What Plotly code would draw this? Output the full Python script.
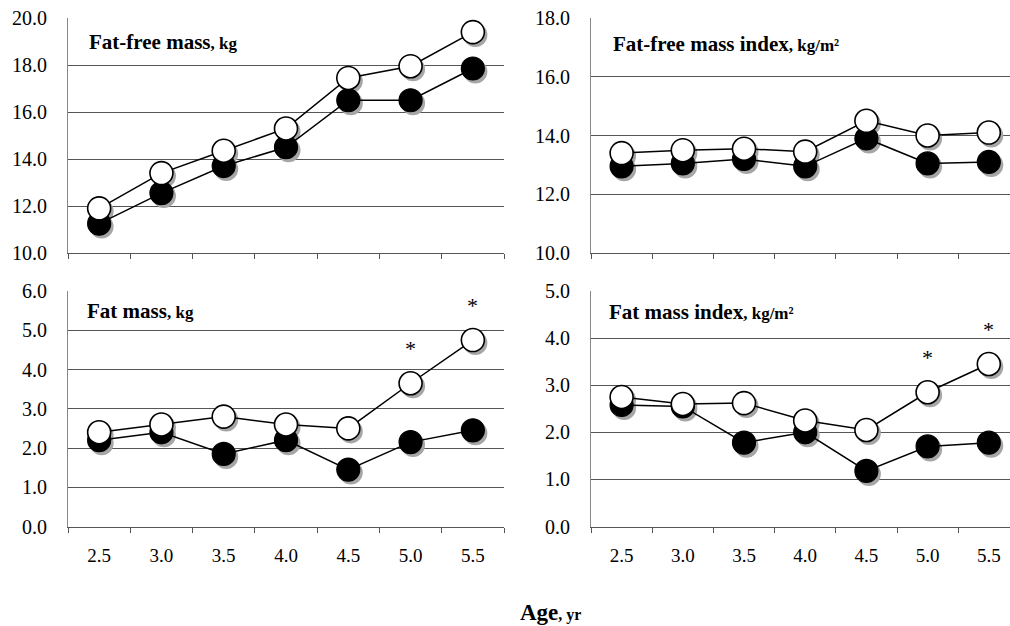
import plotly.graph_objects as go

# ---------------- data ----------------
ages = ["2.5", "3.0", "3.5", "4.0", "4.5", "5.0", "5.5"]

ffm_open = [11.9, 13.4, 14.35, 15.3, 17.45, 17.95, 19.4]
ffm_filled = [11.25, 12.55, 13.7, 14.5, 16.5, 16.5, 17.85]

ffmi_open = [13.4, 13.5, 13.55, 13.45, 14.5, 14.0, 14.1]
ffmi_filled = [12.95, 13.05, 13.2, 12.95, 13.9, 13.05, 13.1]

fm_open = [2.4, 2.6, 2.8, 2.6, 2.5, 3.65, 4.75]
fm_filled = [2.2, 2.4, 1.85, 2.2, 1.45, 2.15, 2.45]

fmi_open = [2.75, 2.6, 2.62, 2.25, 2.05, 2.85, 3.45]
fmi_filled = [2.58, 2.55, 1.78, 2.0, 1.18, 1.7, 1.78]

fm_sig = ["", "", "", "", "", "*", "*"]
fmi_sig = ["", "", "", "", "", "*", "*"]

titles = ["Fat-free mass", "Fat-free mass index", "Fat mass", "Fat mass index"]
units = ["kg", "kg/m²", "kg", "kg/m²"]
x_title = "Age"
x_unit = "yr"

# ---------------- layout helpers ----------------
W, H = 1010, 626
FONT = "Liberation Serif"


def fx(p):
    return p / W


def fy(p):
    return 1 - p / H


panels = [
    dict(x0=68, x1=504, y0=18, y1=253, yr=[10, 20], dt=2, ncat=7.0,
         filled=ffm_filled, opened=ffm_open, sig=None, labels=False,
         tx=87, ty=42),
    dict(x0=591, x1=1010, y0=18, y1=253, yr=[10, 18], dt=2, ncat=419 / 61.2,
         filled=ffmi_filled, opened=ffmi_open, sig=None, labels=False,
         tx=611, ty=44),
    dict(x0=68, x1=504, y0=291, y1=526.5, yr=[0, 6], dt=1, ncat=7.0,
         filled=fm_filled, opened=fm_open, sig=fm_sig, labels=True,
         tx=85, ty=311),
    dict(x0=591, x1=1010, y0=291, y1=526.5, yr=[0, 5], dt=1, ncat=419 / 61.2,
         filled=fmi_filled, opened=fmi_open, sig=fmi_sig, labels=True,
         tx=607, ty=312),
]

fig = go.Figure()
layout = {}
SDX, SDY = 2.5, 3.0  # shadow offset in pixels
MS = 23              # marker size


def key(ax, n):
    return ax + ("axis" if n == 1 else "axis%d" % n)


def ref(ax, n):
    return ax if n == 1 else "%s%d" % (ax, n)


annotations = []

for i, p in enumerate(panels):
    base = i + 1
    shad = i + 5
    main = i + 9
    xd = [fx(p["x0"]), fx(p["x1"])]
    yd = [fy(p["y1"]), fy(p["y0"])]
    xr = [-0.5, -0.5 + p["ncat"]]
    yr = p["yr"]
    pxu_x = (p["x1"] - p["x0"]) / (xr[1] - xr[0])
    pxu_y = (p["y1"] - p["y0"]) / (yr[1] - yr[0])

    # base axes: grid, ticks, labels
    layout[key("x", base)] = dict(
        domain=xd, range=xr, anchor=ref("y", base), automargin=False,
        type="category", categoryorder="array", categoryarray=ages,
        showgrid=False, showline=True, linecolor="#555", linewidth=1,
        ticks="outside", tickson="boundaries", ticklen=5, tickcolor="#555",
        showticklabels=p["labels"], ticklabelstandoff=12,
        tickfont=dict(family=FONT, size=19, color="black"),
        zeroline=False, fixedrange=True,
    )
    layout[key("y", base)] = dict(
        domain=yd, range=yr, anchor=ref("x", base), automargin=False,
        tickmode="linear", tick0=yr[0], dtick=p["dt"], tickformat=".1f",
        showgrid=True, gridcolor="#555", gridwidth=1,
        showline=True, linecolor="#888", linewidth=1,
        ticks="", ticklabelstandoff=16,
        tickfont=dict(family=FONT, size=20, color="black"),
        zeroline=False, fixedrange=True,
    )
    # shadow axes (shifted ranges -> offset shadow)
    layout[key("x", shad)] = dict(
        domain=xd, overlaying=ref("x", base), automargin=False,
        range=[xr[0] - SDX / pxu_x, xr[1] - SDX / pxu_x],
        type="category", categoryorder="array", categoryarray=ages,
        visible=False, anchor=ref("y", shad), fixedrange=True,
    )
    layout[key("y", shad)] = dict(
        domain=yd, overlaying=ref("y", base), automargin=False,
        range=[yr[0] + SDY / pxu_y, yr[1] + SDY / pxu_y],
        visible=False, anchor=ref("x", shad), fixedrange=True,
    )
    # main data axes
    layout[key("x", main)] = dict(
        domain=xd, overlaying=ref("x", base), automargin=False,
        range=xr, type="category", categoryorder="array", categoryarray=ages,
        visible=False, anchor=ref("y", main), fixedrange=True,
    )
    layout[key("y", main)] = dict(
        domain=yd, overlaying=ref("y", base), automargin=False,
        range=yr, visible=False, anchor=ref("x", main), fixedrange=True,
    )

    # invisible anchor trace on base axes so the subplot is drawn
    fig.add_trace(go.Scatter(
        x=ages, y=p["filled"], mode="markers",
        marker=dict(size=1, opacity=0),
        xaxis=ref("x", base), yaxis=ref("y", base),
        showlegend=False, hoverinfo="skip",
    ))
    # shadows
    for series in (p["filled"], p["opened"]):
        fig.add_trace(go.Scatter(
            x=ages, y=series, mode="markers",
            marker=dict(size=MS + 1, color="#a6a6a6", line=dict(width=0)),
            xaxis=ref("x", shad), yaxis=ref("y", shad),
            showlegend=False, hoverinfo="skip", cliponaxis=False,
        ))
    # filled series
    fig.add_trace(go.Scatter(
        x=ages, y=p["filled"], mode="lines+markers",
        line=dict(color="black", width=1.5),
        marker=dict(size=MS, color="black", line=dict(color="black", width=1.2)),
        xaxis=ref("x", main), yaxis=ref("y", main), showlegend=False,
        cliponaxis=False,
    ))
    # open series
    fig.add_trace(go.Scatter(
        x=ages, y=p["opened"], mode="lines+markers",
        line=dict(color="black", width=1.5),
        marker=dict(size=MS, color="white", line=dict(color="black", width=1.6)),
        xaxis=ref("x", main), yaxis=ref("y", main), showlegend=False,
        cliponaxis=False,
    ))
    # significance asterisks above the open circles (x given as category index)
    if p["sig"] is not None:
        for k, (v, s) in enumerate(zip(p["opened"], p["sig"])):
            if s:
                annotations.append(dict(
                    x=k, y=v, xref=ref("x", main), yref=ref("y", main),
                    text=s, showarrow=False, yshift=35,
                    xanchor="center", yanchor="middle",
                    font=dict(family=FONT, size=22, color="black"),
                ))

for p, t, u in zip(panels, titles, units):
    annotations.append(dict(
        x=fx(p["tx"]), y=fy(p["ty"]), xref="paper", yref="paper",
        xanchor="left", yanchor="middle", showarrow=False,
        text="<b>%s</b><b><span style='font-size:17px'>, %s</span></b>" % (t, u),
        font=dict(family=FONT, size=21, color="black"),
    ))
annotations.append(dict(
    x=fx(550), y=fy(612), xref="paper", yref="paper",
    xanchor="center", yanchor="middle", showarrow=False,
    text="<b>%s</b><b><span style='font-size:16px'>, %s</span></b>" % (x_title, x_unit),
    font=dict(family=FONT, size=23, color="black"),
))

fig.update_layout(
    width=W, height=H,
    margin=dict(l=0, r=0, t=0, b=0, pad=0),
    paper_bgcolor="white", plot_bgcolor="rgba(0,0,0,0)",
    annotations=annotations,
    showlegend=False,
    **layout,
)

fig.write_html("out.html")
